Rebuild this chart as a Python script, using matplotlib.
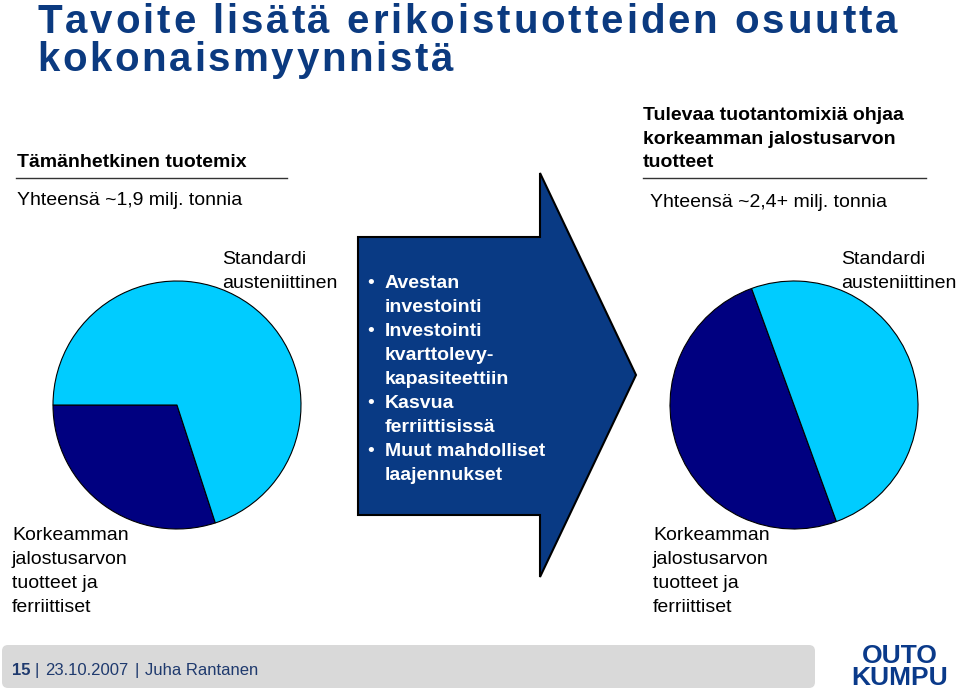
import matplotlib
matplotlib.use('Agg')
import matplotlib.pyplot as plt
from matplotlib.font_manager import FontProperties, findfont
from matplotlib.ft2font import FT2Font
from matplotlib.patches import Polygon, FancyBboxPatch

# ---------------- data ----------------
segments = ['Korkeamman jalostusarvon tuotteet ja ferriittiset', 'Standardi austeniittinen']
current_share = [30, 70]      # Tämänhetkinen tuotemix (~1,9 milj. t)
future_share = [50, 50]       # Tuleva tuotemix (~2,4+ milj. t)
seg_colors = ['#000080', '#00CCFF']

title_lines = ['Tavoite lisätä erikoistuotteiden osuutta', 'kokonaismyynnistä']
left_head = 'Tämänhetkinen tuotemix'
left_total = 'Yhteensä ~1,9 milj. tonnia'
right_head = ['Tulevaa tuotantomixiä ohjaa', 'korkeamman jalostusarvon', 'tuotteet']
right_total = 'Yhteensä ~2,4+ milj. tonnia'
std_label = ['Standardi', 'austeniittinen']
high_label = ['Korkeamman', 'jalostusarvon', 'tuotteet ja', 'ferriittiset']
bullets = [['Avestan', 'investointi'],
           ['Investointi', 'kvarttolevy-', 'kapasiteettiin'],
           ['Kasvua', 'ferriittisissä'],
           ['Muut mahdolliset', 'laajennukset']]
footer_page = '15'
footer_date = '23.10.2007'
footer_name = 'Juha Rantanen'

# ---------------- figure ----------------
W, H = 960, 692
fig = plt.figure(figsize=(9.6, 6.92), dpi=100)
ax = fig.add_axes([0, 0, 1, 1])


def Y(y):
    return H - y


FAM = 'Liberation Sans'
NAVY = '#0b3a80'

# pies
ax.pie(current_share, colors=seg_colors, startangle=180, center=(177, Y(405)), radius=124,
       wedgeprops=dict(edgecolor='black', linewidth=0.8), frame=True)
ax.pie(future_share, colors=seg_colors, startangle=110, center=(794, Y(405)), radius=124,
       wedgeprops=dict(edgecolor='black', linewidth=0.8), frame=True)

ax.set_xlim(0, W)
ax.set_ylim(0, H)
ax.set_aspect('auto')
ax.axis('off')

# title with letter spacing
fpath = findfont(FontProperties(family=FAM, weight='bold'))
ft = FT2Font(fpath)


def spaced(x0, yb, s, target_w, size, color):
    ft.set_size(size, 100)
    adv = [ft.load_char(ord(c)).linearHoriAdvance / 65536 for c in s]
    natural = sum(adv)
    sp = (target_w - natural) / (len(s) - 1)
    x = x0
    for c, a in zip(s, adv):
        ax.text(x, Y(yb), c, fontsize=size, fontweight='bold', family=FAM,
                color=color, ha='left', va='baseline')
        x += a + sp


spaced(37, 33, title_lines[0], 860, 29, NAVY)
spaced(37, 71, title_lines[1], 416, 29, NAVY)

# headings
ax.text(17, Y(167), left_head, fontsize=14, fontweight='bold', family=FAM, va='baseline')
ax.plot([16, 287], [Y(178), Y(178)], color='#333333', lw=1)
ax.text(17, Y(205), left_total, fontsize=14, family=FAM, va='baseline')

for i, line in enumerate(right_head):
    ax.text(643, Y(120 + 23.5 * i), line, fontsize=14, fontweight='bold', family=FAM, va='baseline')
ax.plot([643, 926], [Y(178), Y(178)], color='#333333', lw=1)
ax.text(650, Y(207), right_total, fontsize=14, family=FAM, va='baseline')

# pie labels
for i, line in enumerate(std_label):
    ax.text(222, Y(264 + 24 * i), line, fontsize=14, family=FAM, va='baseline')
    ax.text(841, Y(264 + 24 * i), line, fontsize=14, family=FAM, va='baseline')
for i, line in enumerate(high_label):
    ax.text(12, Y(540 + 24 * i), line, fontsize=14, family=FAM, va='baseline')
    ax.text(653, Y(540 + 24 * i), line, fontsize=14, family=FAM, va='baseline')

# arrow
arrow_pts = [(358, 237), (540, 237), (540, 173), (636, 375), (540, 577), (540, 515), (358, 515)]
ax.add_patch(Polygon([(x, Y(y)) for x, y in arrow_pts], closed=True, fc='#093a84',
                     ec='black', lw=1.5, zorder=3))
yb = 288
for item in bullets:
    for j, line in enumerate(item):
        if j == 0:
            ax.text(367, Y(yb), '•', fontsize=14, family=FAM, color='white', va='baseline', zorder=4)
        ax.text(385, Y(yb), line, fontsize=14, fontweight='bold', family=FAM, color='white',
                va='baseline', zorder=4)
        yb += 24

# footer
ax.add_patch(FancyBboxPatch((2, Y(688)), 813, 43, boxstyle='round,pad=0,rounding_size=6',
                            fc='#d9d9d9', ec='none'))
FC = '#1f3a6e'
ax.text(12, Y(675), footer_page, fontsize=12, fontweight='bold', family=FAM, color=FC, va='baseline')
ax.text(35, Y(675), '|', fontsize=12, family=FAM, color=FC, va='baseline')
ax.text(45, Y(675), footer_date, fontsize=12, family=FAM, color=FC, va='baseline')
ax.text(135, Y(675), '|', fontsize=12, family=FAM, color=FC, va='baseline')
ax.text(145, Y(675), footer_name, fontsize=12, family=FAM, color=FC, va='baseline')

# logo
ax.text(900, Y(663), 'OUTO', fontsize=19, fontweight='bold', family=FAM, color='#0a3a8a',
        ha='center', va='baseline')
ax.text(900, Y(685), 'KUMPU', fontsize=19, fontweight='bold', family=FAM, color='#0a3a8a',
        ha='center', va='baseline')

fig.savefig('out.png', dpi=100)
